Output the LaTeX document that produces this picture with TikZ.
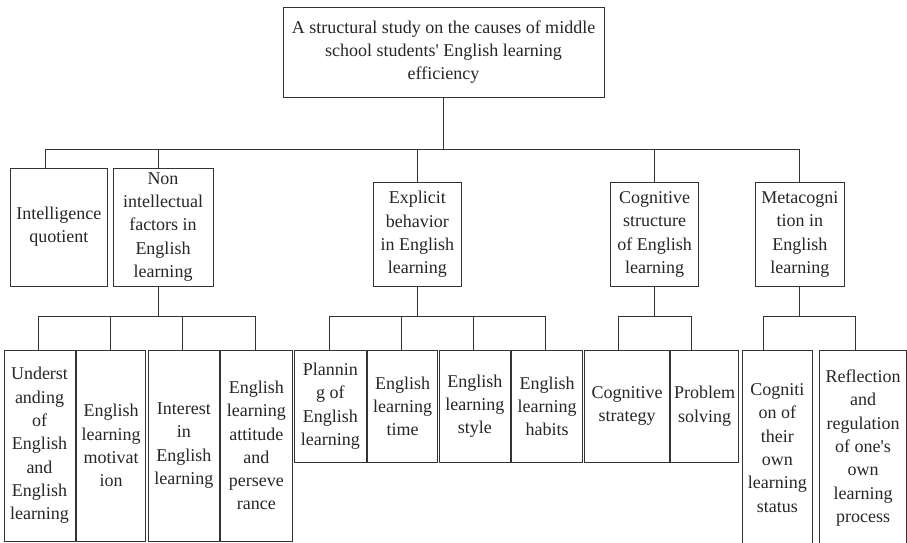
\documentclass[tikz,border=0pt]{standalone}
\usepackage{fontspec}
\setmainfont{Liberation Serif}
\begin{document}
\begin{tikzpicture}[x=1pt,y=-1pt,
  bx/.style={draw=black!80, line width=0.9pt, inner sep=0pt, align=center,
    text=black!85, font=\fontsize{18}{23.3}\selectfont},
  ln/.style={draw=black!80, line width=0.9pt}]
\useasboundingbox (0,0) rectangle (907,542);
\clip (0,0) rectangle (907,542);

% root
\node[bx, minimum width=321pt, minimum height=90pt] (root) at (443.5,52)
  {A structural study on the causes of middle\\school students\textquotesingle\ English learning\\efficiency};

% first level
\node[bx, minimum width=96.3pt, minimum height=118pt] (iq) at (58.8,227) {Intelligence\\quotient};
\node[bx, minimum width=100pt, minimum height=118pt] (non) at (163,227)
  {Non\\intellectual\\factors in\\English\\learning};
\node[bx, minimum width=88.7pt, minimum height=104.4pt] (exp) at (417.3,234.5)
  {Explicit\\behavior\\in English\\learning};
\node[bx, minimum width=88.4pt, minimum height=104.4pt] (cog) at (654.5,234.5)
  {Cognitive\\structure\\of English\\learning};
\node[bx, minimum width=88.3pt, minimum height=104.4pt] (meta) at (799.8,234.5)
  {Metacogni\\tion in\\English\\learning};

% second level: non-intellectual factors
\node[bx, minimum width=71pt, minimum height=191pt] (u1) at (39.5,445.5)
  {Underst\\anding\\of\\English\\and\\English\\learning};
\node[bx, minimum width=69pt, minimum height=191pt] (u2) at (111.2,445.5)
  {English\\learning\\motivat\\ion};
\node[bx, minimum width=71pt, minimum height=191pt] (u3) at (183.8,445.5)
  {Interest\\in\\English\\learning};
\node[bx, minimum width=71.3pt, minimum height=191pt] (u4) at (256.3,445.5)
  {English\\learning\\attitude\\and\\perseve\\rance};

% second level: explicit behavior
\node[bx, minimum width=71.3pt, minimum height=112.7pt] (e1) at (330.3,406.3)
  {Plannin\\g of\\English\\learning};
\node[bx, minimum width=70.4pt, minimum height=112.7pt] (e2) at (402.5,406.3)
  {English\\learning\\time};
\node[bx, minimum width=71pt, minimum height=112.7pt] (e3) at (474.8,406.3)
  {English\\learning\\style};
\node[bx, minimum width=71.4pt, minimum height=112.7pt] (e4) at (547,406.3)
  {English\\learning\\habits};

% second level: cognitive structure
\node[bx, minimum width=84.6pt, minimum height=112.7pt] (c1) at (627,406.3)
  {Cognitive\\strategy};
\node[bx, minimum width=68pt, minimum height=112.7pt] (c2) at (704.7,406.3)
  {Problem\\solving};

% second level: metacognition
\node[bx, minimum width=70.7pt, minimum height=196pt] (m1) at (777.3,448)
  {Cogniti\\on of\\their\\own\\learning\\status};
\node[bx, minimum width=86.8pt, minimum height=196pt] (m2) at (863.1,448)
  {Reflection\\and\\regulation\\of one\textquotesingle s\\own\\learning\\process};

% bus junctions
\coordinate (rj) at (root.south |- 0,149.3);
\coordinate (nj) at ([xshift=-4.7pt]non.south |- 0,316);
\coordinate (ej) at (exp.south |- 0,316);
\coordinate (cj) at (cog.south |- 0,316);
\coordinate (mj) at (meta.south |- 0,316);

% connectors from the root
\draw[ln] (root.south) -- (rj);
\draw[ln] (rj) -| ([xshift=-13.8pt]iq.north);
\draw[ln] (rj) -| ([xshift=-4.7pt]non.north);
\draw[ln] (rj) -| (exp.north);
\draw[ln] (rj) -| (cog.north);
\draw[ln] (rj) -| (meta.north);

% connectors to the second level
\draw[ln] ([xshift=-4.7pt]non.south) -- (nj);
\foreach \c in {u1,u2,u3,u4} \draw[ln] (nj) -| ([xshift=-1.2pt]\c.north);
\draw[ln] (exp.south) -- (ej);
\foreach \c in {e1,e2,e3,e4} \draw[ln] (ej) -| ([xshift=-1.2pt]\c.north);
\draw[ln] (cog.south) -- (cj);
\draw[ln] (cj) -| ([xshift=-8.3pt]c1.north);
\draw[ln] (cj) -| ([xshift=-13.4pt]c2.north);
\draw[ln] (meta.south) -- (mj);
\draw[ln] (mj) -| ([xshift=-13.6pt]m1.north);
\draw[ln] (mj) -| ([xshift=-7.8pt]m2.north);
\end{tikzpicture}
\end{document}
